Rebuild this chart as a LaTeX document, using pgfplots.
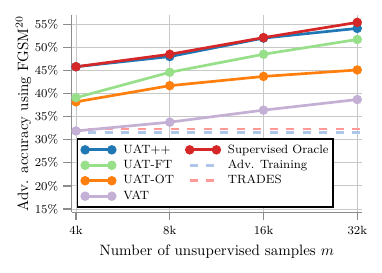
\documentclass[border=0pt]{standalone}
\usepackage{pgfplots}
\pgfplotsset{compat=1.18}
\definecolor{cblue}{HTML}{1F77B4}
\definecolor{corange}{HTML}{FF7F0E}
\definecolor{cred}{HTML}{D62728}
\definecolor{cgreen}{HTML}{98DF8A}
\definecolor{cpurple}{HTML}{C5B0D5}
\definecolor{clblue}{HTML}{AEC7E8}
\definecolor{clred}{HTML}{FF9896}
\definecolor{spine}{HTML}{8C8C8C}
\definecolor{gridc}{HTML}{C8C8C8}
\begin{document}
\begin{tikzpicture}
\begin{axis}[
  name=ax,
  scale only axis,
  width=193.5pt, height=131.5pt,
  xmin=-0.046, xmax=3.05,
  ymin=14.3, ymax=57,
  axis x line*=bottom, axis y line*=left,
  axis line style={spine, line width=0.9pt, -},
  xtick={0,1,2,3},
  xticklabels={4k,8k,16k,32k},
  ytick={15,20,25,30,35,40,45,50,55},
  yticklabel={$\pgfmathprintnumber{\tick}\%$},
  tick align=outside,
  major tick length=5.5pt,
  tick style={spine, line width=0.9pt},
  ticklabel style={font=\footnotesize},
  grid=major,
  major grid style={gridc, line width=0.6pt},
  xlabel={Number of unsupervised samples $m$},
  ylabel={Adv. accuracy using FGSM$^{20}$},
  ylabel shift=-4.5pt,
  legend columns=2,
  legend cell align=left,
  legend style={at={(axis description cs:0,0)}, anchor=south west, xshift=3.3pt, yshift=3.1pt,
    font=\footnotesize, draw=black, line width=0.9pt, inner xsep=3pt, inner ysep=2pt,
    nodes={text height=5.8pt, text depth=1.5pt, inner ysep=1.5pt, inner xsep=0pt},
    /tikz/every odd column/.append style={column sep=5.5pt},
    /tikz/every even column/.append style={column sep=8.3pt}},
  legend image code/.code={\draw[mark repeat=2, mark phase=1, #1] plot coordinates {(0cm,0cm) (8.9pt,0cm) (17.8pt,0cm)};},
  every axis plot/.append style={line width=1.8pt},
  mk/.style={mark=*, mark size=2.2pt, mark options={draw=black!80, line width=0.6pt, solid}},
]
% legend images (row-wise order)
\addlegendimage{cblue, mk, mark options={fill=cblue}}
\addlegendentry{UAT++}
\addlegendimage{cred, mk, mark options={fill=cred}}
\addlegendentry{Supervised Oracle}
\addlegendimage{cgreen, mk, mark options={fill=cgreen}}
\addlegendentry{UAT-FT}
\addlegendimage{clblue, dash pattern=on 5.5pt off 5.5pt}
\addlegendentry{Adv. Training}
\addlegendimage{corange, mk, mark options={fill=corange}}
\addlegendentry{UAT-OT}
\addlegendimage{clred, dash pattern=on 5.5pt off 5.5pt}
\addlegendentry{TRADES}
\addlegendimage{cpurple, mk, mark options={fill=cpurple}}
\addlegendentry{VAT}
% baselines
\addplot[clblue, dash pattern=on 5.5pt off 5.5pt, forget plot] coordinates {(-0.046,31.5) (3.05,31.5)};
\addplot[clred, dash pattern=on 5.5pt off 5.5pt, forget plot] coordinates {(-0.046,32.3) (3.05,32.3)};
% series
\addplot[cpurple, mk, mark options={fill=cpurple}, forget plot] coordinates {(0,31.9) (1,33.8) (2,36.4) (3,38.7)};
\addplot[corange, mk, mark options={fill=corange}, forget plot] coordinates {(0,38.2) (1,41.7) (2,43.7) (3,45.1)};
\addplot[cgreen, mk, mark options={fill=cgreen}, forget plot] coordinates {(0,39.1) (1,44.6) (2,48.5) (3,51.7)};
\addplot[cblue, mk, mark options={fill=cblue}, forget plot] coordinates {(0,45.8) (1,48.0) (2,52.0) (3,54.1)};
\addplot[cred, mk, mark options={fill=cred}, forget plot] coordinates {(0,45.8) (1,48.5) (2,52.1) (3,55.4)};
\end{axis}
\path (ax.south west) ++(-47.8pt,-40.5pt) coordinate (bbl);
\path (bbl) rectangle ++(254.67pt,182pt);
\end{tikzpicture}
\end{document}
